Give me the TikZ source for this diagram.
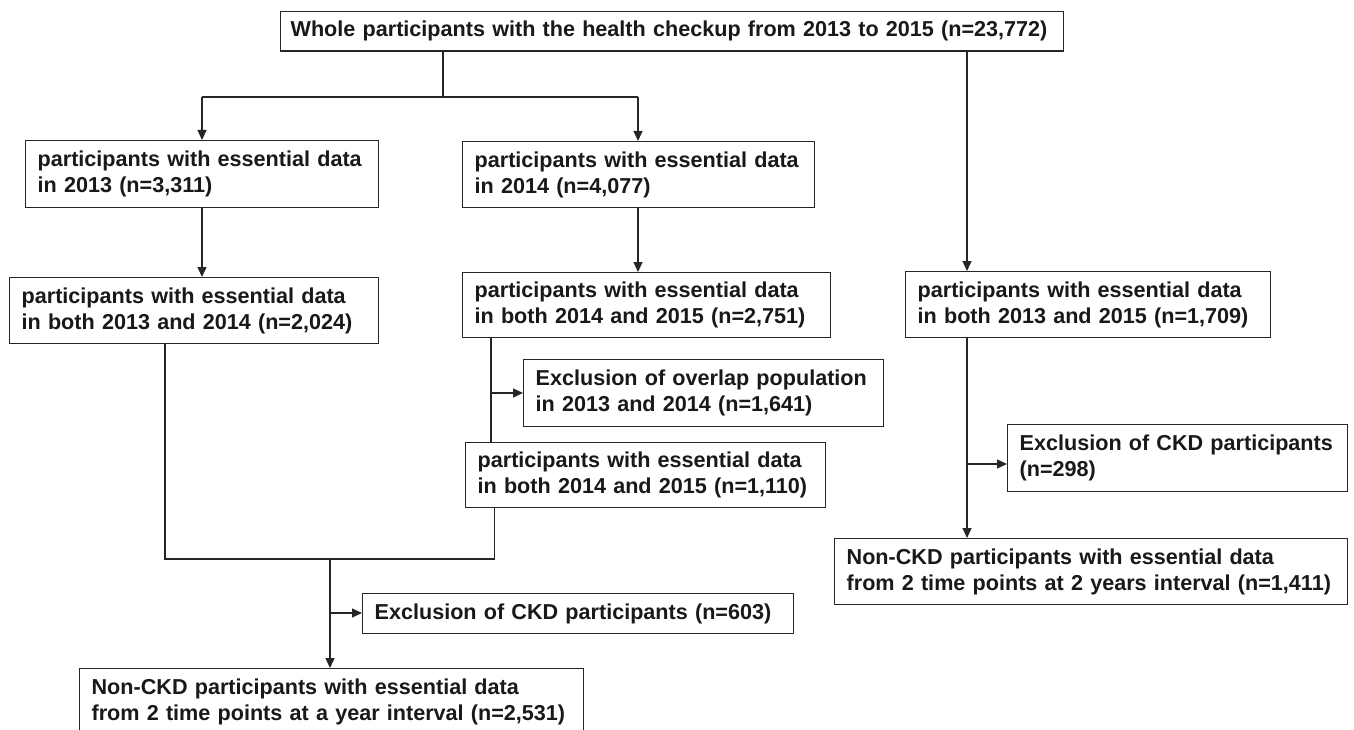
\documentclass[tikz,border=0pt]{standalone}
\usepackage{fontspec}
\setmainfont{Liberation Sans}
\usetikzlibrary{arrows.meta,calc}
\begin{document}
\begin{tikzpicture}[x=1pt,y=-1pt,
  box/.style={draw=black!85,line width=1.3pt,anchor=north west,align=left,
    inner xsep=12pt,inner ysep=0pt,font=\bfseries\fontsize{21.6}{26}\selectfont,text=black!90},
  conn/.style={draw=black!85,line width=1.3pt},
  arr/.style={conn,-{Triangle[length=10pt,width=9pt]}}]
\useasboundingbox[fill=white] (0,0) rectangle (1354,730);
\node[box,text width=783pt-20pt,minimum height=39.5pt,inner xsep=10pt] (top) at (280,11)
  {Whole participants with the health checkup from 2013 to 2015 (n=23,772)};
\node[box,text width=353pt-24pt,minimum height=67pt] (b1) at (25,140)
  {participants with essential data\\in 2013 (n=3,311)};
\node[box,text width=352pt-24pt,minimum height=66pt] (b2) at (462,141)
  {participants with essential data\\in 2014 (n=4,077)};
\node[box,text width=369pt-24pt,minimum height=66pt] (b3) at (9,277)
  {participants with essential data\\in both 2013 and 2014 (n=2,024)};
\node[box,text width=368pt-24pt,minimum height=65pt] (b4) at (462,272)
  {participants with essential data\\in both 2014 and 2015 (n=2,751)};
\node[box,text width=365pt-24pt,minimum height=66pt] (b5) at (905,271)
  {participants with essential data\\in both 2013 and 2015 (n=1,709)};
\node[box,text width=360pt-24pt,minimum height=67pt] (ex1) at (523,359)
  {Exclusion of overlap population\\in 2013 and 2014 (n=1,641)};
\node[box,text width=360pt-24pt,minimum height=65pt] (b6) at (465,442)
  {participants with essential data\\in both 2014 and 2015 (n=1,110)};
\node[box,text width=431pt-24pt,minimum height=40pt] (ex2) at (362,593)
  {Exclusion of CKD participants (n=603)};
\node[box,text width=340pt-24pt,minimum height=67pt] (ex3) at (1007,424)
  {Exclusion of CKD participants\\(n=298)};
\node[box,text width=504pt-24pt,minimum height=67pt] (f1) at (79,668)
  {Non-CKD participants with essential data\\from 2 time points at a year interval (n=2,531)};
\node[box,text width=513pt-24pt,minimum height=66pt] (f2) at (834,538)
  {Non-CKD participants with essential data\\from 2 time points at 2 years interval (n=1,411)};
% junctions
\coordinate (j0) at (443,97);
\coordinate (jl) at (202,97);
\coordinate (jr) at (638,97);
\coordinate (jx) at (967,0);
\coordinate (k4) at (491,0);
\coordinate (e1) at (491,393);
\coordinate (m3) at (165,559);
\coordinate (m6) at (494.6,559);
\coordinate (mc) at (330,559);
\coordinate (e2) at (330,613);
\coordinate (e3) at (967,464);
% connectors
\draw[conn] (top.south -| j0) -- (j0);
\draw[conn] (jl) -- (jr);
\draw[arr] (jl) -- (b1.north -| jl);
\draw[arr] (jr) -- (b2.north -| jr);
\draw[arr] (top.south -| jx) -- (b5.north -| jx);
\draw[arr] (b1.south -| jl) -- (b3.north -| jl);
\draw[arr] (b2.south -| jr) -- (b4.north -| jr);
\draw[conn] (b4.south -| k4) -- (b6.north -| k4);
\draw[arr] (e1) -- (ex1.west |- e1);
\draw[conn] (b3.south -| m3) -- (m3) -- (m6) -- (b6.south -| m6);
\draw[arr] (mc) -- (f1.north -| mc);
\draw[arr] (e2) -- (ex2.west |- e2);
\draw[arr] (b5.south -| e3) -- (f2.north -| e3);
\draw[arr] (e3) -- (ex3.west |- e3);
\end{tikzpicture}
\end{document}
